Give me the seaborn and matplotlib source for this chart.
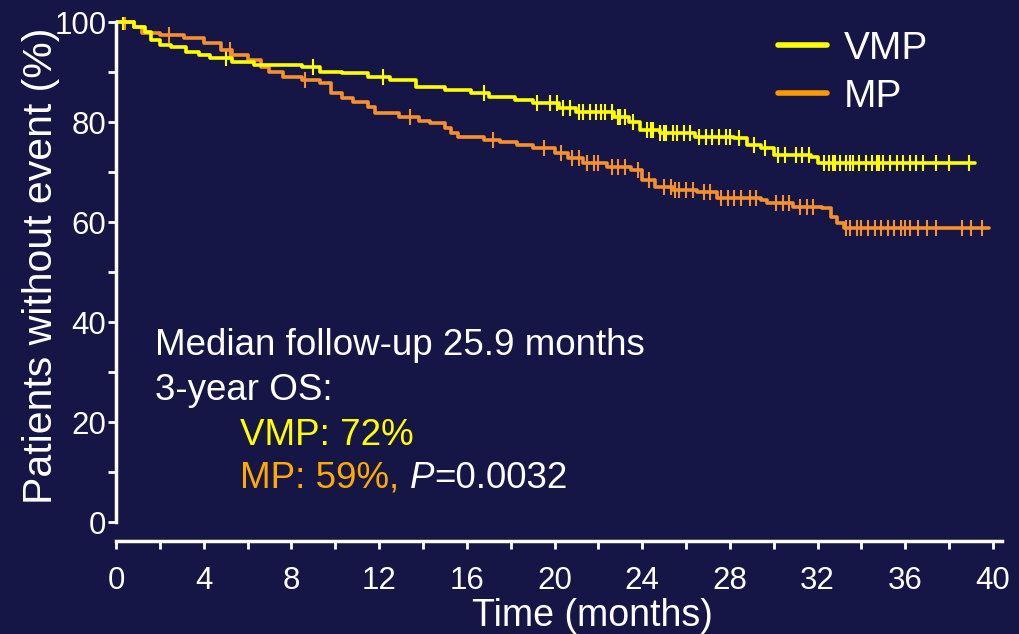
import numpy as np
import pandas as pd
import matplotlib
matplotlib.use("Agg")
import matplotlib.pyplot as plt
import seaborn as sns
from matplotlib.lines import Line2D

# ---- data ----
vmp_t = [0, 0.8, 1.3, 1.6, 2.0, 2.5, 3.2, 3.8, 4.3, 5.3, 6.3, 8.5, 9.3, 10.3, 11.5, 12.5,
         13.7, 15.0, 16.2, 17.0, 18.2, 19.0, 20.2, 21.0, 22.7, 23.4, 23.9, 24.8, 26.4,
         28.2, 28.8, 29.4, 30.0, 31.7, 32.0, 39.2]
vmp_s = [100, 99, 98, 96.5, 95.5, 95, 94, 93.5, 92.8, 92, 91.4, 91, 90, 89.8, 89, 88.4,
         87, 86.4, 85.8, 85, 84.4, 83.8, 82.8, 82, 81, 80, 78.4, 77.8, 77,
         76.8, 75.4, 74.8, 73.4, 73, 71.8, 71.8]
mp_t = [0, 0.8, 1.2, 2.0, 3.1, 4.0, 4.8, 5.3, 6.0, 6.6, 7.0, 7.6, 8.5, 9.3, 9.8, 10.3,
        10.8, 11.5, 11.8, 12.9, 13.8, 14.3, 15.0, 15.3, 15.6, 16.8, 17.5, 18.3, 19.0,
        20.0, 20.6, 21.3, 22.4, 23.5, 24.0, 24.6, 25.4, 26.5, 27.4, 29.4, 29.7, 30.9,
        32.2, 32.6, 32.9, 33.2, 39.8]
mp_s = [100, 99, 97.8, 97.4, 96.8, 95.8, 94.4, 93.4, 92.4, 91, 90, 89, 88.4, 87.8, 85.8, 84.8,
        84, 83, 81.8, 81, 80.2, 79.8, 78.8, 77.8, 77, 76.4, 76, 75.4, 74.8,
        73.8, 72.8, 71.8, 71, 70.4, 68.4, 67, 66.4, 66, 64.8, 64.4, 63.8, 63,
        62.8, 61, 59.8, 58.8, 58.8]
vmp_cens = [0.3, 5.0, 9.0, 12.2, 16.8, 19.2, 19.8, 20.1, 20.4, 20.7, 21.1, 21.3, 21.6, 21.9,
            22.1, 22.3, 22.6, 22.9, 23.0, 23.2, 23.6, 24.2, 24.4, 24.5, 24.8, 25.0, 25.1,
            25.4, 25.6, 25.9, 26.2, 26.6, 26.9, 27.2, 27.5, 27.8, 28.0, 28.4, 29.1, 29.6,
            30.2, 30.5, 31.0, 31.3, 31.6, 32.3, 32.5, 32.7, 32.8, 33.0, 33.3, 33.5, 33.6,
            33.9, 34.2, 34.5, 34.7, 34.8, 35.0, 35.3, 35.6, 35.9, 36.2, 36.5, 36.8, 37.4,
            38.0, 38.9]
mp_cens = [0.4, 2.4, 5.2, 8.6, 13.4, 17.2, 19.5, 20.3, 20.8, 21.1, 21.5, 21.8, 22.0, 22.6,
           22.9, 23.2, 23.8, 24.3, 25.0, 25.3, 25.5, 25.7, 26.0, 26.3, 26.8, 27.1, 27.6,
           27.9, 28.2, 28.5, 28.9, 29.2, 30.1, 30.4, 30.7, 31.2, 31.5, 31.8, 33.3, 33.5,
           33.8, 34.0, 34.3, 34.6, 34.9, 35.2, 35.5, 35.8, 36.0, 36.2, 36.6, 37.0, 37.4,
           38.6, 39.0, 39.5]
groups = ["VMP", "MP"]
x_ticks = list(range(0, 41, 4))
y_ticks = list(range(0, 101, 20))

BG = "#161646"
YEL = "#FFFF00"
ORA = "#F5902F"
ORA_LEG = "#FF9900"
ORA_TXT = "#FFAA00"

def step_at(t, s, times):
    idx = np.searchsorted(np.asarray(t), np.asarray(times), side="right") - 1
    return np.asarray(s)[idx]

curves = pd.concat([
    pd.DataFrame({"t": vmp_t, "s": vmp_s, "g": "VMP"}),
    pd.DataFrame({"t": mp_t, "s": mp_s, "g": "MP"}),
])
cens = pd.concat([
    pd.DataFrame({"t": vmp_cens, "s": step_at(vmp_t, vmp_s, vmp_cens), "g": "VMP"}),
    pd.DataFrame({"t": mp_cens, "s": step_at(mp_t, mp_s, mp_cens), "g": "MP"}),
])
palette = {"VMP": YEL, "MP": ORA}

sns.set_style("white")
plt.rcParams["font.family"] = ["Liberation Sans", "DejaVu Sans"]

fig = plt.figure(figsize=(10.19, 6.34), dpi=100, facecolor=BG)
ax = fig.add_axes([116 / 1019, (634 - 541) / 634, (993 - 116) / 1019, (541 - 17) / 634])
ax.set_facecolor(BG)

for g in ["MP", "VMP"]:
    d = curves[curves.g == g]
    sns.lineplot(data=d, x="t", y="s", color=palette[g], estimator=None, sort=False,
                 drawstyle="steps-post", linewidth=2.6, ax=ax, legend=False)
    c = cens[cens.g == g]
    sns.scatterplot(data=c, x="t", y="s", color=palette[g], marker="|", s=120,
                    linewidth=1.5, ax=ax, legend=False)

ax.set_xlim(0, 40)
ax.set_ylim(-3.8, 101)
ax.set_xticks(x_ticks)
ax.set_xticks(range(0, 41, 2), minor=True)
ax.set_yticks(y_ticks)
ax.set_yticks(range(0, 101, 10), minor=True)
ax.set_xticklabels([str(v) for v in x_ticks])
ax.set_yticklabels([str(v) for v in y_ticks])

for side in ["top", "right"]:
    ax.spines[side].set_visible(False)
for side in ["left", "bottom"]:
    ax.spines[side].set_color("white")
    ax.spines[side].set_linewidth(2.5)
ax.spines["left"].set_bounds(0, 100)
ax.spines["bottom"].set_bounds(0, 40.4)

ax.tick_params(axis="both", which="both", colors="white", direction="out", width=2,
               length=6, bottom=True, left=True)
ax.tick_params(axis="both", which="major", labelsize=22.5)
ax.tick_params(axis="x", which="major", pad=12)
ax.tick_params(axis="y", which="major", pad=1)

ax.set_xlabel("Time (months)", color="white", fontsize=27)
ax.xaxis.set_label_coords((592 - 116) / 877, -0.108)
ax.set_ylabel("Patients without event (%)", color="white", fontsize=29.5)
ax.yaxis.set_label_coords(-0.064, (541 - 266) / 524)

handles = [Line2D([], [], color=YEL, lw=4), Line2D([], [], color=ORA_LEG, lw=4)]
leg = ax.legend(handles, groups, loc="upper left", bbox_to_anchor=(778 / 1019, 1 - 31 / 634),
                bbox_transform=fig.transFigure, frameon=False, borderpad=0, borderaxespad=0,
                fontsize=28, labelcolor="white", handlelength=1.25, handletextpad=0.45,
                labelspacing=0.3)

FS = 26.5
ax.text(1.8, 33.4, "Median follow-up 25.9 months", color="white", fontsize=FS, va="baseline")
ax.text(1.8, 24.4, "3-year OS:", color="white", fontsize=FS, va="baseline")
ax.text(5.66, 15.4, "VMP: 72%", color=YEL, fontsize=FS, va="baseline")
t1 = ax.text(5.66, 6.8, "MP: 59%, ", color=ORA_TXT, fontsize=FS, va="baseline")
fig.canvas.draw()
inv = ax.transData.inverted()
x_end = inv.transform((t1.get_window_extent().x1, 0))[0]
t2 = ax.text(x_end, 6.8, "P", color="white", fontsize=FS, va="baseline", style="italic")
fig.canvas.draw()
x_end2 = inv.transform((t2.get_window_extent().x1, 0))[0]
ax.text(x_end2, 6.8, "=0.0032", color="white", fontsize=FS, va="baseline")

fig.savefig("out.png", dpi=100, facecolor=BG)
